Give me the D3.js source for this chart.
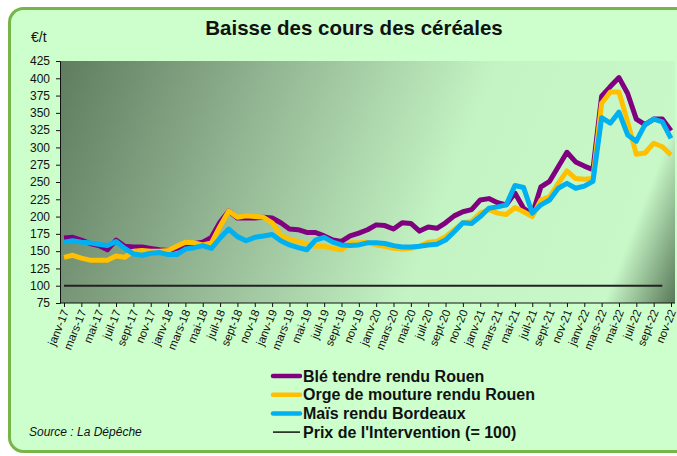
<!DOCTYPE html>
<html>
<head>
<meta charset="utf-8">
<script src="https://cdn.jsdelivr.net/npm/d3@7"></script>
<style>
  body { margin: 0; background: #ffffff; }
  text { font-family: Arial, "Liberation Sans", sans-serif; }
</style>
</head>
<body>
<div id="chart"></div>
<script>
// months on the x axis (janv-17 .. nov-22)
var monthNames = ["janv", "févr", "mars", "avr", "mai", "juin", "juil", "août", "sept", "oct", "nov", "déc"];
var years = ["17", "18", "19", "20", "21", "22"];
var months = [];
years.forEach(function(y) {
  monthNames.forEach(function(m) {
    months.push(m + "-" + y);
  });
});
months = months.slice(0, 71);

// Blé tendre rendu Rouen
var ble = [169, 170, 166, 161, 158, 152, 166, 157, 156, 156, 154, 152,
  151, 154, 159, 161, 163, 170, 192, 208, 198, 198, 198, 199,
  198, 191, 182, 181, 177, 177, 172, 166, 164, 172, 176, 181,
  188, 187, 182, 191, 190, 179, 185, 183, 191, 201, 207, 210,
  224, 226, 220, 217, 234, 212, 203, 243, 251, 272, 293, 279,
  273, 268, 374, 388, 401, 378, 341, 333, 341, 341, 324];

// Orge de mouture rendu Rouen
var orge = [141, 144, 140, 137, 137, 137, 143, 141, 150, 151, 150, 150,
  151, 157, 163, 162, 159, 162, 186, 208, 199, 201, 200, 199,
  191, 173, 167, 164, 160, 157, 157, 154, 152, 162, 162, 163,
  159, 157, 154, 153, 154, 157, 163, 164, 171, 181, 191, 193,
  205, 210, 205, 203, 213, 207, 200, 224, 229, 248, 266, 255,
  254, 255, 364, 380, 380, 337, 290, 292, 306, 301, 289];

// Maïs rendu Bordeaux
var mais = [163, 165, 163, 162, 160, 158, 164, 154, 146, 144, 147, 148,
  145, 145, 153, 155, 158, 154, 169, 182, 171, 165, 170, 172,
  174, 165, 159, 155, 152, 166, 170, 163, 159, 158, 159, 162,
  162, 161, 158, 156, 156, 157, 159, 160, 166, 178, 191, 190,
  200, 212, 214, 217, 245, 242, 205, 217, 224, 241, 248, 241,
  244, 251, 343, 335, 351, 318, 309, 333, 341, 337, 313];

// Prix de l'Intervention, drawn up to oct-22
var interventionPrice = 100;
var interventionMonths = months.slice(0, 70);

var yTicks = [75, 100, 125, 150, 175, 200, 225, 250, 275, 300, 325, 350, 375, 400, 425];

var series = [
  { name: "Blé tendre rendu Rouen", color: "#800080", values: ble },
  { name: "Orge de mouture rendu Rouen", color: "#ffc000", values: orge },
  { name: "Maïs rendu Bordeaux", color: "#00b0f0", values: mais }
];

// canvas
var width = 677;
var height = 456;

// plot box
var plotLeft = 60;
var plotRight = 675;
var plotTop = 61;
var plotBottom = 303;

var svg = d3
  .select("#chart")
  .append("svg")
  .attr("width", width)
  .attr("height", height);

// gradient for the plot area
var defs = svg.append("defs");
var grad = defs
  .append("linearGradient")
  .attr("id", "plotGrad")
  .attr("gradientUnits", "userSpaceOnUse")
  .attr("x1", plotLeft)
  .attr("y1", plotTop)
  .attr("x2", plotRight)
  .attr("y2", plotBottom);
grad.append("stop").attr("offset", "0").attr("stop-color", "#5f7c5f");
grad.append("stop").attr("offset", "0.28").attr("stop-color", "#8fb18f");
grad.append("stop").attr("offset", "0.62").attr("stop-color", "#c4f4c4");
grad.append("stop").attr("offset", "0.9").attr("stop-color", "#c8f8c8");
grad.append("stop").attr("offset", "1").attr("stop-color", "#587858");

// outer frame
svg
  .append("rect")
  .attr("x", 9.5)
  .attr("y", 8.5)
  .attr("width", 720)
  .attr("height", 443)
  .attr("rx", 14)
  .attr("fill", "#ccffcc")
  .attr("stroke", "#77b548")
  .attr("stroke-width", 3);

// plot background
svg
  .append("rect")
  .attr("x", plotLeft)
  .attr("y", plotTop)
  .attr("width", plotRight - plotLeft)
  .attr("height", plotBottom - plotTop)
  .attr("fill", "url(#plotGrad)");

// title
svg
  .append("text")
  .attr("x", 354)
  .attr("y", 35)
  .attr("text-anchor", "middle")
  .attr("font-size", 20.5)
  .attr("font-weight", "bold")
  .attr("fill", "#111")
  .text("Baisse des cours des céréales");

// unit
svg
  .append("text")
  .attr("x", 31)
  .attr("y", 42)
  .attr("font-size", 14)
  .attr("fill", "#111")
  .text("€/t");

// scales
var xScale = d3
  .scalePoint()
  .domain(months)
  .range([64, 671]);

var yScale = d3
  .scaleLinear()
  .domain([75, 425])
  .range([plotBottom, plotTop]);

// y axis
var yAxis = d3.axisLeft(yScale).tickValues(yTicks).tickSize(4).tickPadding(6);
var yG = svg
  .append("g")
  .attr("transform", "translate(" + plotLeft + ",0)")
  .call(yAxis);
yG.select(".domain").attr("stroke", "#111");
yG.selectAll("line").attr("stroke", "#111");
yG.selectAll("text").attr("font-size", 12).attr("fill", "#111").attr("font-family", "Arial, 'Liberation Sans', sans-serif");

// x axis, label every two months
var xAxis = d3
  .axisBottom(xScale)
  .tickValues(months.filter(function(d, i) { return i % 2 === 0; }))
  .tickSize(4)
  .tickSizeOuter(0);
var xG = svg
  .append("g")
  .attr("transform", "translate(0," + plotBottom + ")")
  .call(xAxis);
xG.select(".domain").attr("d", "M" + plotLeft + ",0H" + plotRight).attr("stroke", "#111");
xG.selectAll("line").attr("stroke", "#111");
xG
  .selectAll("text")
  .attr("x", 0)
  .attr("y", 0)
  .attr("font-size", 11.5)
  .attr("fill", "#111")
  .attr("font-family", "Arial, 'Liberation Sans', sans-serif")
  .attr("text-anchor", "end")
  .attr("dy", "0.35em")
  .attr("transform", "translate(1,7) rotate(-68)");

// intervention price line
var line = d3
  .line()
  .x(function(d) { return xScale(d.m); })
  .y(function(d) { return yScale(d.v); });

svg
  .append("path")
  .datum(interventionMonths.map(function(m) { return { m: m, v: interventionPrice }; }))
  .attr("d", line)
  .attr("fill", "none")
  .attr("stroke", "#222")
  .attr("stroke-width", 2);

// series lines
series.forEach(function(s) {
  svg
    .append("path")
    .datum(s.values.map(function(v, i) { return { m: months[i], v: v }; }))
    .attr("d", line)
    .attr("fill", "none")
    .attr("stroke", s.color)
    .attr("stroke-width", 5)
    .attr("stroke-linejoin", "round");
});

// legend
var legendX = 273;
var legendY = 376;
var legendGap = 18.7;
var legendItems = series.map(function(s) {
  return { name: s.name, color: s.color, w: 4.5 };
});
legendItems.push({ name: "Prix de l'Intervention (= 100)", color: "#111", w: 1.5 });

var legend = svg
  .selectAll("g.legendItem")
  .data(legendItems)
  .enter()
  .append("g")
  .attr("class", "legendItem")
  .attr("transform", function(d, i) {
    return "translate(" + legendX + "," + (legendY + i * legendGap) + ")";
  });

legend
  .append("line")
  .attr("x1", 0)
  .attr("x2", 27)
  .attr("stroke", function(d) { return d.color; })
  .attr("stroke-width", function(d) { return d.w; })
  .attr("stroke-linecap", function(d) { return d.w > 2 ? "round" : "butt"; });

legend
  .append("text")
  .attr("x", 30)
  .attr("dy", "0.35em")
  .attr("font-size", 16)
  .attr("font-weight", "bold")
  .attr("fill", "#111")
  .text(function(d) { return d.name; });

// source
svg
  .append("text")
  .attr("x", 29)
  .attr("y", legendY + 3 * legendGap)
  .attr("dy", "0.35em")
  .attr("font-size", 12)
  .attr("font-style", "italic")
  .attr("fill", "#111")
  .text("Source : La Dépêche");
</script>
</body>
</html>
